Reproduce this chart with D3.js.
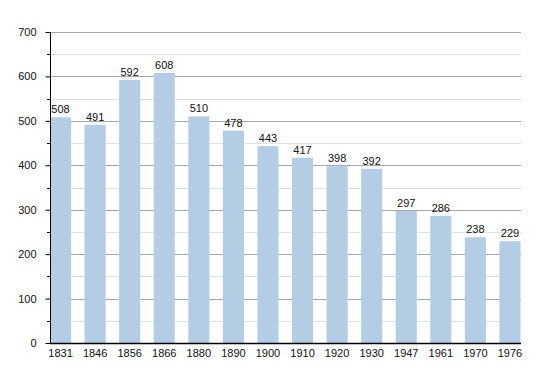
<!DOCTYPE html>
<meta charset="utf-8">
<script src="https://cdn.jsdelivr.net/npm/d3@7/dist/d3.min.js"></script>
<style>
    body { margin: 0; background: #fff; }
    text { font-family: "Liberation Sans", Arial, sans-serif; }
</style>
<body>
<script>

    var years = ["1831","1846","1856","1866","1880","1890","1900","1910","1920","1930","1947","1961","1970","1976"];
    var population = [508, 491, 592, 608, 510, 478, 443, 417, 398, 392, 297, 286, 238, 229];
    var yTicks = [0, 100, 200, 300, 400, 500, 600, 700];
    var yMinor = [50, 150, 250, 350, 450, 550, 650];

    var chartW = 550;
    var chartH = 373;
    var plotLeft = 50, plotRight = 521, plotTop = 32, plotBottom = 343;

    var svg = d3.select("body").append("svg")
        .attr("width", chartW)
        .attr("height", chartH);

    var x = d3.scaleBand()
        .domain(years)
        .range([plotLeft, 520.5])
        .paddingInner(0.39)
        .paddingOuter(0);

    var y = d3.scaleLinear()
        .domain([0, 700])
        .range([plotBottom, plotTop]);

    function py(d) { return Math.round(y(d)) + 0.5; }

    // minor grid
    svg.selectAll(".minorGrid")
        .data(yMinor)
        .enter().append("line")
        .attr("class", "minorGrid")
        .attr("x1", plotLeft).attr("x2", plotRight)
        .attr("y1", py)
        .attr("y2", py)
        .style("stroke", "#e2e2e2");

    // major grid
    svg.selectAll(".majorGrid")
        .data(yTicks.slice(1))
        .enter().append("line")
        .attr("class", "majorGrid")
        .attr("x1", plotLeft).attr("x2", plotRight)
        .attr("y1", py)
        .attr("y2", py)
        .style("stroke", "#a8a8a8");

    // bars
    svg.selectAll(".bar")
        .data(population)
        .enter().append("rect")
        .attr("class", "bar")
        .attr("x", function(d, i) { return x(years[i]); })
        .attr("y", function(d) { return y(d); })
        .attr("width", x.bandwidth())
        .attr("height", function(d) { return y(0) - y(d); })
        .style("fill", "#b3cde5");

    // value labels
    svg.selectAll(".valLabel")
        .data(population)
        .enter().append("text")
        .attr("class", "valLabel")
        .attr("x", function(d, i) { return x(years[i]) + x.bandwidth() / 2; })
        .attr("y", function(d) { return y(d) - 4; })
        .attr("text-anchor", "middle")
        .style("font-size", "11px")
        .style("fill", "#111")
        .text(function(d) { return d; });

    // y axis
    var yAxis = d3.axisLeft(y)
        .tickValues(yTicks)
        .tickSize(5)
        .tickPadding(9);

    var gy = svg.append("g")
        .attr("transform", "translate(" + (plotLeft + 0.5) + ",0)")
        .call(yAxis);
    gy.select(".domain").remove();
    gy.selectAll(".tick line").style("stroke", "#000");
    gy.selectAll(".tick text").style("font-size", "11px").style("fill", "#111");

    svg.selectAll(".minorTick")
        .data(yMinor)
        .enter().append("line")
        .attr("class", "minorTick")
        .attr("x1", plotLeft - 3).attr("x2", plotLeft)
        .attr("y1", py)
        .attr("y2", py)
        .style("stroke", "#000");

    svg.append("line")
        .attr("x1", plotLeft + 0.5).attr("x2", plotLeft + 0.5)
        .attr("y1", plotTop).attr("y2", plotBottom + 1)
        .style("stroke", "#000");

    // x axis
    var xAxis = d3.axisBottom(x).tickSize(0).tickPadding(6);
    var gx = svg.append("g")
        .attr("transform", "translate(0," + (plotBottom + 0.5) + ")")
        .call(xAxis);
    gx.select(".domain").remove();
    gx.selectAll(".tick text").style("font-size", "11px").style("fill", "#111");

    svg.append("line")
        .attr("x1", plotLeft).attr("x2", plotRight)
        .attr("y1", plotBottom + 0.5).attr("y2", plotBottom + 0.5)
        .style("stroke", "#000")
        .style("stroke-width", 1.3);

</script>
</body>
